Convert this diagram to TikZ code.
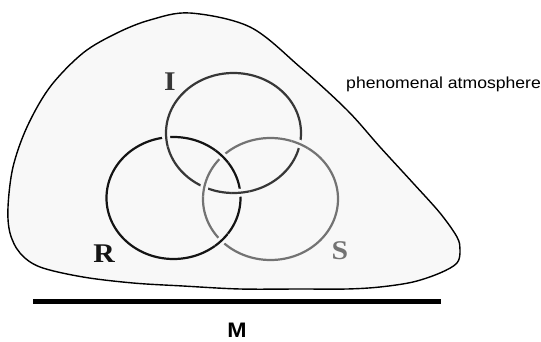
\documentclass[tikz,border=0pt]{standalone}
\usepackage{fontspec}
\setmainfont{Liberation Serif}
\setsansfont{Liberation Sans}
\definecolor{blobfill}{RGB}{248,248,248}
\definecolor{colI}{RGB}{55,55,55}
\definecolor{colR}{RGB}{20,20,20}
\definecolor{colS}{RGB}{115,115,115}
\newcommand\crossover[5]{%
  \begin{scope}
    \clip #5 circle (9);
    \draw[gapline] #1 ellipse [x radius=#2, y radius=#3];
    \draw[ring, draw=#4] #1 ellipse [x radius=#2, y radius=#3];
  \end{scope}}
\begin{document}
\begin{tikzpicture}[x=1pt,y=-1pt,
  blob/.style={draw=black, line width=1.4pt, fill=blobfill},
  ring/.style={line width=2.2pt},
  gapline/.style={draw=blobfill, line width=8pt},
  letter/.style={font=\fontsize{27}{27}\selectfont\bfseries, xscale=1.1, inner sep=0pt},
  caption/.style={font=\fontsize{16}{16}\selectfont\sffamily, xscale=1.1, inner sep=0pt},
]
\useasboundingbox[fill=white] (0,0) rectangle (541,342);
% phenomenal atmosphere region
\draw[blob] plot[smooth cycle, tension=0.55] coordinates {
  (190,13) (150,20) (117,33) (83,53) (50,87) (27,127) (13,167) (8,207)
  (10,233) (20,253) (40,267) (83,277) (133,283) (183,286) (240,289)
  (300,289) (347,289) (380,287) (413,282) (440,273) (457,263) (460,250)
  (457,237) (440,213) (413,183) (380,147) (347,110) (300,67) (250,27)};
% ring centres
\coordinate (cI) at (233.5,133);
\coordinate (cR) at (173.5,198);
\coordinate (cS) at (270.5,199);
% rings
\draw[ring, draw=colI] (cI) ellipse [x radius=67.5, y radius=60];
\draw[ring, draw=colR] (cR) ellipse [x radius=67, y radius=61];
\draw[ring, draw=colS] (cS) ellipse [x radius=67.5, y radius=61];
% crossings (Borromean: I over R, R over S, S over I)
\coordinate (xIR1) at (166.2,137.9);
\coordinate (xIR2) at (240.8,193.1);
\coordinate (xRS1) at (222,156.5);
\coordinate (xRS2) at (222,240.6);
\coordinate (xSI1) at (299.8,144.4);
\coordinate (xSI2) at (204.2,187.5);
\crossover{(cI)}{67.5}{60}{colI}{(xIR1)}
\crossover{(cI)}{67.5}{60}{colI}{(xIR2)}
\crossover{(cR)}{67}{61}{colR}{(xRS1)}
\crossover{(cR)}{67}{61}{colR}{(xRS2)}
\crossover{(cS)}{67.5}{61}{colS}{(xSI1)}
\crossover{(cS)}{67.5}{61}{colS}{(xSI2)}
% labels
\node[letter, text=colI] (lI) at (170,82) {I};
\node[letter, text=colR] (lR) at (104,254) {R};
\node[letter, text=colS] (lS) at (340,251) {S};
\node[caption, anchor=base west] (atm) at (346,89) {phenomenal atmosphere};
% base line M
\coordinate (m1) at (33,301);
\coordinate (m2) at (441,301);
\draw[line width=5pt] (m1) -- (m2);
\node[font=\fontsize{21}{21}\selectfont\sffamily\bfseries, xscale=1.1, inner sep=0pt] (lM) at (237,330) {M};
\end{tikzpicture}
\end{document}
